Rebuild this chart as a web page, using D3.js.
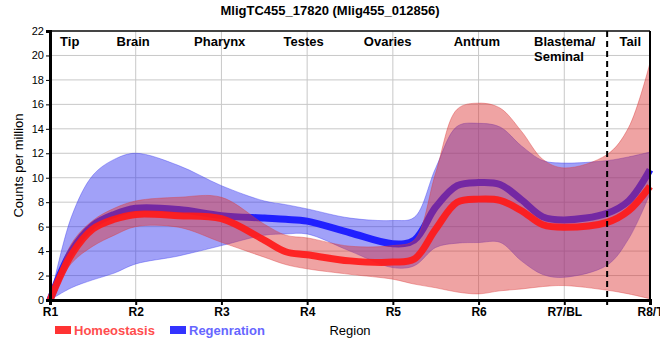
<!DOCTYPE html>
<html><head><meta charset="utf-8">
<script src="https://cdn.jsdelivr.net/npm/d3@7"></script>
<style>body{margin:0;background:#fff}svg{display:block;font-family:"Liberation Sans",Arial,sans-serif}</style>
</head><body><svg id="c" width="660" height="360"></svg>
<script>
const title = "MligTC455_17820 (Mlig455_012856)";
const regions = ["R1","R2","R3","R4","R5","R6","R7/BL","R8/T"];
const tissueLabels = [["Tip"],["Brain"],["Pharynx"],["Testes"],["Ovaries"],["Antrum"],["Blastema/","Seminal"],["Tail"]];
const tissueAnchor = [0.23,0.97,1.98,2.96,3.94,4.98,5.95,6.77];
const yTicks = [0,2,4,6,8,10,12,14,16,18,20,22];
const tailBoundary = 6.5;
const pos = [0,0.25,0.5,0.75,1,1.5,2,2.5,2.75,3,3.5,4,4.25,4.5,4.75,5,5.25,5.5,5.75,6,6.5,6.75,7];
const homeoMean  = [0,3.7,5.8,6.6,7.0,6.9,6.65,4.9,3.95,3.7,3.2,3.1,3.35,5.8,8.0,8.25,8.15,7.3,6.15,5.95,6.35,7.3,9.3];
const homeoUpper = [0,4.6,6.5,7.5,8.1,8.4,8.4,6.2,5.3,5.08,4.4,4.45,4.9,10.4,15.6,16.1,15.7,13.8,11.5,10.8,11.9,14.1,19.4];
const homeoLower = [0,3.0,4.4,5.3,6.0,5.95,4.72,3.5,2.9,2.55,2.1,1.7,1.3,1.0,0.65,0.5,0.75,0.9,1.1,1.18,0.8,0.5,0.1];
const regenMean  = [0,4.0,6.1,7.0,7.5,7.4,6.9,6.7,6.6,6.45,5.5,4.6,4.9,7.6,9.35,9.6,9.45,8.2,6.8,6.55,7.1,8.1,10.65];
const regenUpper = [0,6.8,10.2,11.5,12.0,11.0,9.35,8.1,7.8,7.45,6.7,6.5,6.76,10.8,14.2,14.45,14.15,12.6,11.4,11.2,11.4,11.7,12.1];
const regenLower = [0,1.0,1.65,2.2,2.95,3.6,4.45,5.3,5.4,5.4,4.0,2.65,2.8,4.3,4.65,4.7,4.72,3.2,2.08,1.86,2.85,5.0,8.7];
const legendItems = [["Homeostasis","#ff3333","#ff4d4d"],["Regenration","#3333ff","#6666ff"]];

const svg = d3.select("#c");
const L=50,R=650,T=31,B=300;
const x = d3.scaleLinear().domain([0,7]).range([L,R]);
const y = d3.scaleLinear().domain([0,22]).range([B,T]);
const curve = d3.curveCatmullRom.alpha(0.5);

// grid
const g = svg.append("g");
g.selectAll(".hg").data(yTicks.slice(1)).join("line")
 .attr("x1",L).attr("x2",R).attr("y1",d=>y(d)).attr("y2",d=>y(d))
 .attr("stroke","#c8c8c8").attr("stroke-width",1);
g.selectAll(".vg").data(d3.range(1,7)).join("line")
 .attr("x1",d=>x(d)).attr("x2",d=>x(d)).attr("y1",T).attr("y2",B)
 .attr("stroke","#c8c8c8").attr("stroke-width",1);

const band = (up,lo)=>d3.area().x((d,i)=>x(pos[i])).y0((d,i)=>y(lo[i])).y1((d,i)=>y(up[i])).curve(curve);
const line = m=>d3.line().x((d,i)=>x(pos[i])).y((d,i)=>y(m[i])).curve(curve);

svg.append("path").datum(pos).attr("d",band(regenUpper,regenLower))
 .attr("fill","rgb(50,50,240)").attr("fill-opacity",0.46).attr("stroke","rgb(60,60,240)").attr("stroke-opacity",0.5).attr("stroke-width",0.8);
svg.append("path").datum(pos).attr("d",line(regenMean))
 .attr("fill","none").attr("stroke","#2020ff").attr("stroke-width",7);
svg.append("path").datum(pos).attr("d",band(homeoUpper,homeoLower))
 .attr("fill","rgb(220,50,50)").attr("fill-opacity",0.45).attr("stroke","rgb(220,60,60)").attr("stroke-opacity",0.5).attr("stroke-width",0.8);
svg.append("path").datum(pos).attr("d",line(homeoMean))
 .attr("fill","none").attr("stroke","#ff1a1a").attr("stroke-opacity",0.93).attr("stroke-width",7);

// frame top/right
svg.append("line").attr("x1",L).attr("x2",R).attr("y1",T).attr("y2",T).attr("stroke","#111").attr("stroke-width",1.5);
svg.append("line").attr("x1",R).attr("x2",R).attr("y1",T).attr("y2",B).attr("stroke","#000").attr("stroke-width",2);

// dashed tail boundary
svg.append("line").attr("x1",x(tailBoundary)).attr("x2",x(tailBoundary)).attr("y1",T).attr("y2",B+5)
 .attr("stroke","#000").attr("stroke-width",2).attr("stroke-dasharray","6,4");

// axes
const ya = svg.append("g").attr("transform",`translate(${L},0)`)
 .call(d3.axisLeft(y).tickValues(yTicks).tickSize(4).tickPadding(2));
ya.select(".domain").attr("stroke","#000").attr("stroke-width",3);
ya.selectAll("text").attr("font-size",11).attr("fill","#000").attr("font-family","Liberation Sans, Arial, sans-serif");
const xa = svg.append("g").attr("transform",`translate(0,${B})`)
 .call(d3.axisBottom(x).tickValues(d3.range(0,8)).tickFormat(i=>regions[i]).tickSize(5).tickPadding(2));
xa.select(".domain").attr("stroke","#000").attr("stroke-width",3);
xa.selectAll("line").attr("stroke-width",2);
xa.selectAll("text").attr("font-size",12).attr("font-weight","bold").attr("fill","#000").attr("font-family","Liberation Sans, Arial, sans-serif");

// tissue labels
tissueLabels.forEach((lines,i)=>{
  const multi = lines.length>1;
  const tx = multi ? x(tissueAnchor[i]) - 26 : x(tissueAnchor[i]);
  const t = svg.append("text").attr("font-size",13).attr("font-weight","bold")
   .attr("text-anchor", multi?"start":"middle").attr("x",tx).attr("y",46);
  lines.forEach((s,k)=>t.append("tspan").attr("x",tx).attr("dy",k?15:0).text(s));
});

// title
svg.append("text").attr("x",330).attr("y",15).attr("text-anchor","middle")
 .attr("font-size",13).attr("font-weight","bold").text(title);
// y title
svg.append("text").attr("transform",`translate(23,${(T+B)/2}) rotate(-90)`).attr("text-anchor","middle")
 .attr("font-size",13).text("Counts per million");
// x title
svg.append("text").attr("x",(L+R)/2).attr("y",335).attr("text-anchor","middle").attr("font-size",13).text("Region");

// legend
const lx=[55,170];
legendItems.forEach((d,i)=>{
  svg.append("rect").attr("x",lx[i]).attr("y",326).attr("width",16).attr("height",8).attr("fill",d[1]);
  svg.append("text").attr("x",lx[i]+19).attr("y",334.5).attr("font-size",13).attr("font-weight","bold").attr("fill",d[2]).text(d[0]);
});
</script></body></html>
